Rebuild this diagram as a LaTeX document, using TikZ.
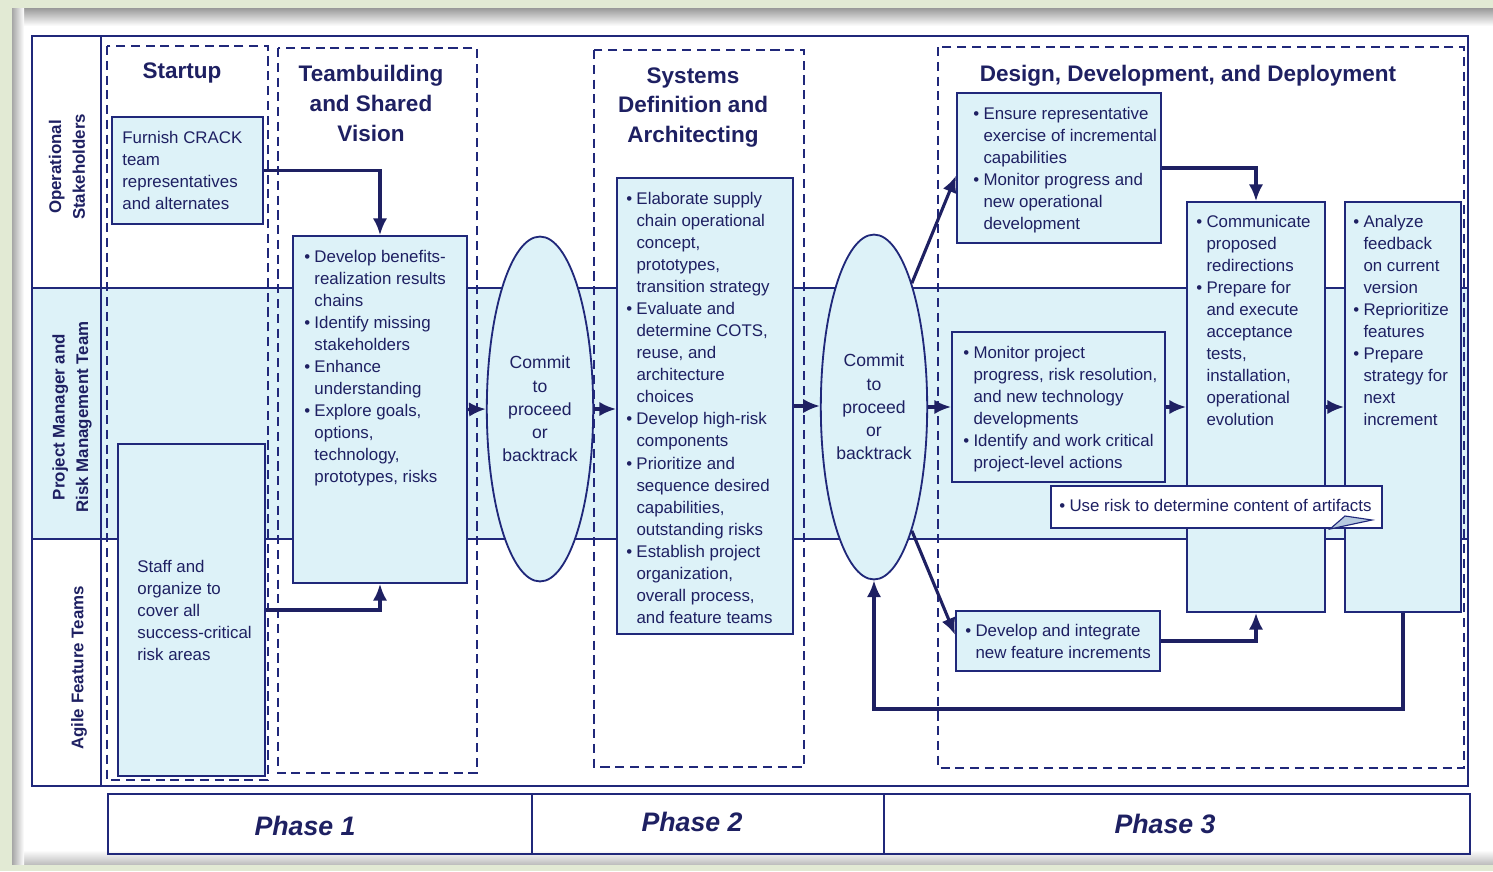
\documentclass[tikz,border=0pt]{standalone}
\usepackage{fontspec}
\setmainfont{Liberation Sans}
\usetikzlibrary{positioning, shapes.geometric, arrows.meta, calc, fit}

\definecolor{ink}{RGB}{30,32,98}
\definecolor{rule}{RGB}{32,40,122}
\definecolor{pale}{RGB}{221,242,248}
\definecolor{mount}{RGB}{226,234,212}

% bulleted and plain line blocks used inside the activity boxes
\newenvironment{points}{\begin{tabular}[t]{@{}l@{\hspace{3pt}}l@{}}}{\end{tabular}}
\newenvironment{plainlines}{\begin{tabular}[t]{@{}l@{}}}{\end{tabular}}

\begin{document}
\begin{tikzpicture}[x=0.025cm, y=-0.025cm,
    frame/.style={draw=rule, line width=1.7pt},
    stage/.style={draw=rule, line width=1.1pt, dash pattern=on 6.5pt off 4pt},
    box/.style={draw=rule, fill=pale, line width=1.3pt, inner sep=0pt},
    txt/.style={anchor=base west, inner sep=0pt, text=ink, font=\fontsize{12}{15.7}\selectfont},
    head/.style={anchor=north, inner sep=0pt, text=ink, align=center, font=\fontsize{16}{21.3}\selectfont\bfseries},
    lane/.style={rotate=90, inner sep=0pt, text=ink, align=center, font=\fontsize{12}{16.8}\selectfont\bfseries},
    gate/.style={ellipse, draw=rule, fill=pale, line width=1.3pt, inner sep=0pt, minimum width=2.55cm, minimum height=8.62cm, text=ink, align=center, font=\fontsize{12.5}{16.5}\selectfont},
    flow/.style={draw=ink, line width=2.2pt, -{Latex[length=4.2mm, width=3.6mm]}},
    phase/.style={draw=rule, line width=1.7pt, inner sep=0pt},
    phasename/.style={text=ink, inner sep=0pt, font=\fontsize{19}{22}\selectfont\bfseries\itshape}
  ]
  \useasboundingbox (0,0) rectangle (1493,871);

  % mount board and paper
  \fill[mount] (0,0) rectangle (1493,871);
  \fill[white] (12,8) rectangle (1493,864);
  \shade[top color=black!40, bottom color=white] (12,8) rectangle (1493,26);
  \shade[top color=white, bottom color=black!25] (12,850) rectangle (1493,864);
  \shade[left color=black!35, right color=white] (12,8) rectangle (24,864);

  % swim lanes
  \fill[pale] (32,288) rectangle (1468,539);
  \draw[frame] (32,36) rectangle (1468,786);
  \draw[frame] (101,36) -- (101,786);
  \draw[frame] (32,288) -- (1468,288);
  \draw[frame] (32,539) -- (1468,539);

  \node[lane] (ops) at (67,167) {Operational\\Stakeholders};
  \node[lane] (pm) at (72,417) {Project Manager and\\Risk Management Team};
  \node[lane] (agile) at (79,668) {Agile Feature Teams};

  % activity columns
  \draw[stage] (107,46) rectangle (268,780);
  \draw[stage] (278,48) rectangle (477,773);
  \draw[stage] (594,50) rectangle (804,767);
  \draw[stage] (938,47) rectangle (1464,768);

  \node[head] (startup) at (182,63) {Startup};
  \node[head] (teamhead) at (371,65) {Teambuilding\\and Shared\\Vision};
  \node[head] (syshead) at (693,67) {Systems\\Definition and\\Architecting};
  \node[head] (ddd) at (1188,65) {Design, Development, and Deployment};

  % boxes
  \node[box, fit={(112,117) (263,224)}] (furnish) {};
  \node[box, fit={(118,444) (265,776)}] (staff) {};
  \node[box, fit={(293,236) (467,583)}] (team) {};
  \node[gate] (gate1) at (540,409) {Commit\\to\\proceed\\or\\backtrack};
  \node[box, fit={(617,178) (793,634)}] (sysdef) {};
  \node[gate] (gate2) at (874,407) {Commit\\to\\proceed\\or\\backtrack};
  \node[box, fit={(957,93) (1161,243)}] (ensure) {};
  \node[box, fit={(952,332) (1165,482)}] (monitor) {};
  \node[box, fit={(1187,202) (1325,612)}] (comm) {};
  \node[box, fit={(1345,202) (1461,612)}] (analyze) {};
  \node[box, fit={(956,611) (1160,671)}] (develop) {};
  \node[box, fill=white, fit={(1051,486) (1382,528)}] (risk) {};
  \filldraw[draw=rule, fill=pale!80!rule, line width=0.8pt] (1330,529) -- (1345,516) -- (1372,520) -- cycle;

  % box texts
  \node[txt] (furnishtxt) at ($(furnish.north west)+(11,27)$) {\begin{plainlines}
    Furnish CRACK\\team\\representatives\\and alternates\end{plainlines}};
  \node[txt] (stafftxt) at ($(staff.north west)+(20,129)$) {\begin{plainlines}
    Staff and\\organize to\\cover all\\success-critical\\risk areas\end{plainlines}};
  \node[txt] (teamtxt) at ($(team.north west)+(12,27)$) {\begin{points}
    \textbullet & Develop benefits-\\ & realization results\\ & chains\\
    \textbullet & Identify missing\\ & stakeholders\\
    \textbullet & Enhance\\ & understanding\\
    \textbullet & Explore goals,\\ & options,\\ & technology,\\ & prototypes, risks\end{points}};
  \node[txt] (systxt) at ($(sysdef.north west)+(10,27)$) {\begin{points}
    \textbullet & Elaborate supply\\ & chain operational\\ & concept,\\ & prototypes,\\ & transition strategy\\
    \textbullet & Evaluate and\\ & determine COTS,\\ & reuse, and\\ & architecture\\ & choices\\
    \textbullet & Develop high-risk\\ & components\\
    \textbullet & Prioritize and\\ & sequence desired\\ & capabilities,\\ & outstanding risks\\
    \textbullet & Establish project\\ & organization,\\ & overall process,\\ & and feature teams\end{points}};
  \node[txt] (ensuretxt) at ($(ensure.north west)+(17,27)$) {\begin{points}
    \textbullet & Ensure representative\\ & exercise of incremental\\ & capabilities\\
    \textbullet & Monitor progress and\\ & new operational\\ & development\end{points}};
  \node[txt] (monitortxt) at ($(monitor.north west)+(12,27)$) {\begin{points}
    \textbullet & Monitor project\\ & progress, risk resolution,\\ & and new technology\\ & developments\\
    \textbullet & Identify and work critical\\ & project-level actions\end{points}};
  \node[txt] (commtxt) at ($(comm.north west)+(10,26)$) {\begin{points}
    \textbullet & Communicate\\ & proposed\\ & redirections\\
    \textbullet & Prepare for\\ & and execute\\ & acceptance\\ & tests,\\ & installation,\\ & operational\\ & evolution\end{points}};
  \node[txt] (analyzetxt) at ($(analyze.north west)+(9,26)$) {\begin{points}
    \textbullet & Analyze\\ & feedback\\ & on current\\ & version\\
    \textbullet & Reprioritize\\ & features\\
    \textbullet & Prepare\\ & strategy for\\ & next\\ & increment\end{points}};
  \node[txt] (risktxt) at ($(risk.north west)+(9,26)$) {\begin{points}
    \textbullet & Use risk to determine content of artifacts\end{points}};
  \node[txt] (developtxt) at ($(develop.north west)+(10,26)$) {\begin{points}
    \textbullet & Develop and integrate\\ & new feature increments\end{points}};

  % flows
  \draw[flow] (furnish.east) -| (team.north);
  \draw[flow] (staff.east) -| (team.south);
  \draw[flow] (team.east) -- (gate1.west);
  \draw[flow] (gate1.east) -- (gate1.east -| sysdef.west);
  \draw[flow] (sysdef.east) -- (sysdef.east -| gate2.west);
  \draw[flow] (gate2.73) -- ($(ensure.north west)!0.55!(ensure.south west)$);
  \draw[flow] (gate2.east) -- (gate2.east -| monitor.west);
  \draw[flow] (gate2.-73) -- ($(develop.north west)!0.4!(develop.south west)$);
  \draw[flow] (ensure.east) -| (comm.north);
  \draw[flow] (monitor.east) -- (monitor.east -| comm.west);
  \draw[flow] (comm.east) -- (comm.east -| analyze.west);
  \draw[flow] (develop.east) -| (comm.south);
  \coordinate (loop) at (875,709);
  \draw[flow] (analyze.south) |- (loop) -| (gate2.south);

  % phase bar
  \node[phase, fit={(108,794) (532,854)}] (p1) {};
  \node[phase, fit={(532,794) (884,854)}] (p2) {};
  \node[phase, fit={(884,794) (1470,854)}] (p3) {};
  \node[phasename] (p1name) at (305,826) {Phase 1};
  \node[phasename] (p2name) at (692,822) {Phase 2};
  \node[phasename] (p3name) at (1165,824) {Phase 3};
\end{tikzpicture}
\end{document}
